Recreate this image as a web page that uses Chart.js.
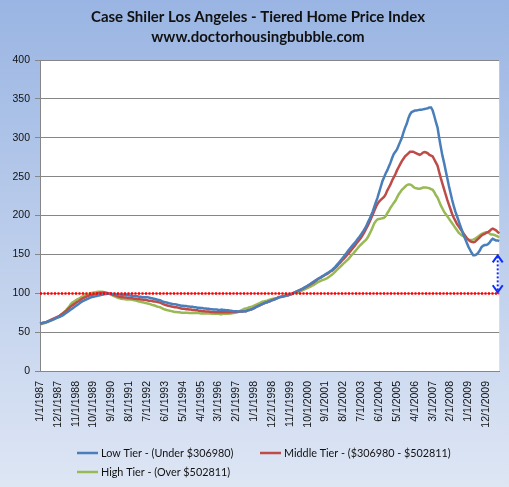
<!DOCTYPE html>
<html>
<head>
<meta charset="utf-8">
<script src="https://cdn.jsdelivr.net/npm/chart.js@4.4.1/dist/chart.umd.min.js"></script>
<style>
html,body{margin:0;padding:0;background:#fff;}
#wrap{width:509px;height:487px;}
</style>
</head>
<body>
<div id="wrap"><canvas id="c" width="509" height="487"></canvas></div>
<script>
const TITLE_LINES = ["Case Shiler Los Angeles - Tiered Home Price Index", "www.doctorhousingbubble.com"];
const START_YEAR = 1987;
const LABEL_EVERY = 11;
const Y_TICKS = [0, 50, 100, 150, 200, 250, 300, 350, 400];
const REF_LEVEL = 100;
const ARROW_RANGE = [150, 100];

const SERIES_NAMES = ["Low Tier - (Under $306980)", "Middle Tier - ($306980 - $502811)", "High Tier - (Over $502811)"];

const lowTier = [
 61,61.5,62,62.5,63,63.8,64.5,65.3,66,67,68,69,
 69.5,70.5,71.5,73,74.5,76,77.5,79,80.5,82,83.5,85,
 86.5,88,89.5,90.5,91.5,92.5,93.5,94.5,95,95.5,96,96.5,
 97,97.5,98,98.5,99,99,99.5,99.5,99,99,99,98.5,
 98.5,98.5,98,98,98,97.5,97.5,97,97,96.5,96.5,96,
 96,95.5,95.5,95,95,95,95,94.5,94,93.5,93,92.5,
 92,91.5,91,90,89,88.5,88,87.5,87,86.5,86,86,
 85.5,85,84.5,84,84,83.5,83.5,83,83,82.5,82.5,82,
 82,81.5,81.5,81,81,80.5,80.5,80,80,79.5,79.5,79,
 79,79,78.5,78.5,79,78.5,78.5,78,78,77.5,77.5,77,
 77,77,76.5,76.5,76.5,76.5,77,77,78,78.5,79,80,
 81,82,83,84,85,86,87,88,88.5,89.5,90,91,
 91.5,92.5,93.5,94.5,95,95.5,96,96.5,97,97.5,98.5,99,
 100,101,102,103,104,105,106,107.5,108.5,110,111,112.5,
 114,115.5,117,118,119.5,120.5,122,123,124.5,126,127,128.5,
 130,132,134,136.5,139,141.5,144,146.5,149.5,152,155,157.5,
 160,162.5,165,167.5,170.5,173,176,179,182.5,186,191,195,
 200,205,211,217,223,230,237,244,249,254,258,263,
 268,274,279,282,285,290,295,300,307,313,318,325,
 330,333,334,335,335,335.5,336,336,336.5,337,337.5,338,
 339,339,335,328,320,313,300,288,277,268,258,248,
 238,229,220,212,205,199,193,187,181,175,170,165,
 160,156,152,149,149,150,152,155,159,161,162,162,
 163,165,168,170,169,168,168,167
];
const middleTier = [
 61,61.5,62,62.5,63,64,65,66,67,68,69,70,
 71,72.5,74,75.5,77,79,81,83,84.5,86,87.5,89,
 90,91.5,93,94,95,96,97,97.5,98,98.5,99,99.5,
 100,100.5,100.5,101,101,100.5,100,99.5,99,98,97.5,97,
 96,95.5,95,95,94.5,94.5,94,94,93.5,93.5,93,93,
 92.5,92.5,92,92,91.5,91.5,91,90.5,90.5,90,89.5,89.5,
 89,88.5,88,87,86,85,84.5,84,83.5,83,82.5,82,
 82,81.5,81,80.5,80,80,79.5,79.5,79,79,78.5,78.5,
 78,78,77.5,77.5,77,77,76.5,76.5,76.5,76,76,76,
 75.5,75.5,75.5,75.5,75.5,75.5,75.5,75.5,75.5,75.5,76,76,
 76,76,76,76.5,76.5,76.5,77,77,78,78.5,79,80,
 81,82,83,84,85,86,87,88,88.5,89.5,90,91,
 92,92.5,93.5,94.5,95,95.5,96,96.5,97,97.5,98.5,99,
 100,101,102,103,104,105,106,107,108,109.5,110.5,112,
 113,114.5,116,118,119,120,121.5,122.5,124,125,126.5,128,
 129,131,133,135,137.5,139.5,142,144,146,148.5,151,153.5,
 156,158.5,161,164,166.5,169,172,175.5,179,183,187,191.5,
 196,201,206,211,215,218,220,222,224,227,232,236,
 240,245,249,253,258,262,266,270,273,276,278,280,
 282,282,282,281,280,279,278,279,281,281.5,281,280,
 278,277,276,272,268,264,256,248,241,234,227,220,
 214,208,202,197,193,189,186,183,180,177,174,171,
 169,167,166,165.5,166,168,170,172,174,175.5,176.5,177.5,
 178.5,180,182,183,182,181,179,177
];
const highTier = [
 60,60.5,61,61.5,62.5,63,64,65,66,67,68,69,
 70,72,74,76,78,80.5,83,86,88,89.5,91,92,
 93,94.5,95.5,96.5,97.5,98.5,99,100,100.5,101,101,101.5,
 102,102,102,101.5,101,100.5,100,99,98,97,96,95,
 94,93.5,93,92.5,92.5,92,92,92,92,91.5,91,90.5,
 90,89.5,89,88.5,88,87.5,87,86.5,86,85,84.5,84,
 83,82.5,82,81,80,79,78.5,78,77.5,77,76.5,76,
 76,75.5,75.5,75,75,75,75,75,74.5,74.5,74.5,74.5,
 74.5,74.5,74.5,74,74,74,74,74,74,74,73.5,73.5,
 73.5,73.5,73.5,73,73,73.5,73.5,73.5,73.5,74,74,74.5,
 75,75.5,76,77,78,79,80,80.5,81,82,82.5,83,
 84,85,86,87,88,89,89.5,90,90.5,91.5,92,92.5,
 93,93.5,94,95,95.5,96,96.5,97,97.5,98,98.5,99,
 100,100.5,101,101.5,102,103,104,105,106,107,108,109,
 110,111,112.5,114,115,116,117,117.5,118.5,119.5,121,122.5,
 124,126,128,130,132,134,136,138,140,142,144,146.5,
 149,151,153.5,156,158.5,161,163,165,167,169,172,176,
 180,185,190,193,195,195.5,196,196.5,197,199,203,206,
 210,213,216,219,223,227,230,233,235,237,239,240,
 240,239,237,235.5,235,234.5,234.5,235,236,236,236,235.5,
 235,234,233,230,226,223,218,213,209,205,202,199,
 196,193,190,187,184,181,178,176,174.5,173.5,172,170,
 169,168.5,168.5,169,170,171.5,173,174.5,176,177,178,178.5,
 178.5,177,175.5,175.5,175,174,173,172
];

const categories = [];
for (let i = 0; i < lowTier.length; i++) {
  const y = START_YEAR + Math.floor(i / 12);
  const m = (i % 12) + 1;
  categories.push(m + "/1/" + y);
}

const COLORS = ["#4a7ebb", "#be4b48", "#98b954"];

const bgPlugin = {
  id: 'bg',
  beforeDraw(chart) {
    const ctx = chart.ctx;
    const g = ctx.createLinearGradient(0, 0, 0, chart.height);
    g.addColorStop(0, '#9ab5e3');
    g.addColorStop(1, '#dee6f4');
    ctx.save();
    ctx.fillStyle = g;
    ctx.fillRect(0, 0, chart.width, chart.height);
    const a = chart.chartArea;
    ctx.fillStyle = '#ffffff';
    ctx.fillRect(a.left, a.top, a.right - a.left, a.bottom - a.top);
    ctx.restore();
  }
};

const decoPlugin = {
  id: 'deco',
  afterDatasetsDraw(chart) {
    const ctx = chart.ctx;
    const a = chart.chartArea;
    const ys = chart.scales.y;
    const xs = chart.scales.x;
    ctx.save();
    const yr = Math.round(ys.getPixelForValue(REF_LEVEL)) + 0.5;
    ctx.strokeStyle = '#ff0000';
    ctx.lineWidth = 2.5;
    ctx.setLineDash([2, 1.5]);
    ctx.beginPath();
    ctx.moveTo(a.left, yr);
    ctx.lineTo(a.right, yr);
    ctx.stroke();
    const xa = xs.getPixelForValue(lowTier.length - 1) - 1.5;
    const yTop = ys.getPixelForValue(ARROW_RANGE[0]);
    const yBot = ys.getPixelForValue(ARROW_RANGE[1]);
    ctx.strokeStyle = '#0a2cff';
    ctx.lineWidth = 2;
    ctx.setLineDash([2, 2]);
    ctx.beginPath();
    ctx.moveTo(xa, yTop + 2);
    ctx.lineTo(xa, yBot - 2);
    ctx.stroke();
    ctx.setLineDash([]);
    ctx.beginPath();
    ctx.moveTo(xa - 5, yTop + 8);
    ctx.lineTo(xa, yTop + 1);
    ctx.lineTo(xa + 5, yTop + 8);
    ctx.moveTo(xa - 5, yBot - 8);
    ctx.lineTo(xa, yBot - 1);
    ctx.lineTo(xa + 5, yBot - 8);
    ctx.stroke();
    ctx.restore();
  },
  afterDraw(chart) {
    const ctx = chart.ctx;
    ctx.save();
    ctx.fillStyle = '#111111';
    ctx.textAlign = 'center';
    ctx.textBaseline = 'middle';
    ctx.font = 'bold 15px Lato, "Liberation Sans", sans-serif';
    ctx.fillText(TITLE_LINES[0], 258, 17);
    ctx.fillText(TITLE_LINES[1], 258, 37);
    const pos = [[77, 453], [260, 453], [77, 472]];
    ctx.font = '10.8px Lato, "Liberation Sans", sans-serif';
    ctx.textAlign = 'left';
    chart.data.datasets.forEach((ds, i) => {
      const [lx, ly] = pos[i];
      ctx.strokeStyle = ds.borderColor;
      ctx.lineWidth = 2.5;
      ctx.beginPath();
      ctx.moveTo(lx, ly);
      ctx.lineTo(lx + 21, ly);
      ctx.stroke();
      ctx.fillStyle = '#111111';
      ctx.fillText(ds.label, lx + 24, ly + 0.5);
    });
    ctx.restore();
  }
};

new Chart(document.getElementById('c'), {
  type: 'line',
  data: {
    labels: categories,
    datasets: [
      { label: SERIES_NAMES[0], data: lowTier, borderColor: COLORS[0] },
      { label: SERIES_NAMES[1], data: middleTier, borderColor: COLORS[1] },
      { label: SERIES_NAMES[2], data: highTier, borderColor: COLORS[2] }
    ].map(d => Object.assign(d, { borderWidth: 2.5, pointRadius: 0, tension: 0, fill: false }))
  },
  options: {
    responsive: false,
    animation: false,
    layout: { padding: { top: 60, right: 6, left: 0, bottom: 0 } },
    plugins: { legend: { display: false }, title: { display: false }, tooltip: { enabled: false } },
    scales: {
      x: {
        offset: false,
        grid: { display: false, drawTicks: false },
        border: { display: true, color: '#868686', width: 1 },
        afterFit: s => { s.height = 116; },
        ticks: {
          autoSkip: false,
          minRotation: 90,
          maxRotation: 90,
          padding: 10,
          color: '#111111',
          font: { family: '"Liberation Sans", Arial, sans-serif', size: 10.5 },
          callback: function(v, i) { return i % LABEL_EVERY === 0 ? categories[i] : null; }
        }
      },
      y: {
        min: Y_TICKS[0],
        max: Y_TICKS[Y_TICKS.length - 1],
        afterFit: s => { s.width = 40; },
        afterBuildTicks: s => { s.ticks = Y_TICKS.map(v => ({ value: v })); },
        grid: { color: '#868686', lineWidth: 1, tickLength: 5, drawTicks: true },
        border: { display: true, color: '#868686' },
        ticks: {
          padding: 5,
          color: '#111111',
          font: { family: '"Liberation Sans", Arial, sans-serif', size: 10.5 }
        }
      }
    }
  },
  plugins: [bgPlugin, decoPlugin]
});
</script>
</body>
</html>
